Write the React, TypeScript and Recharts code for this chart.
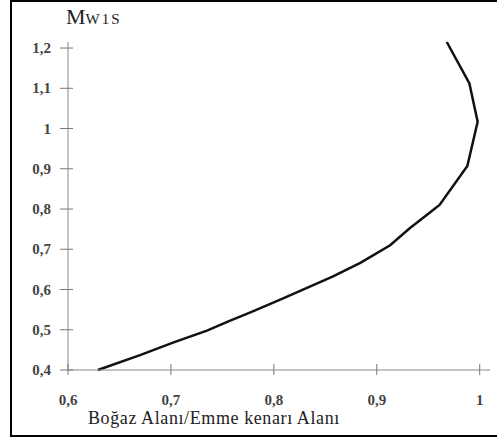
import React from 'react';
import { LineChart, Line, XAxis, YAxis } from 'recharts';

const areaRatio = [0.629, 0.670, 0.702, 0.735, 0.757, 0.779, 0.809, 0.857, 0.884, 0.913, 0.932, 0.951, 0.961, 0.988, 0.998, 0.990, 0.968];
const machW1S = [0.40, 0.437, 0.468, 0.498, 0.522, 0.545, 0.578, 0.632, 0.666, 0.710, 0.752, 0.790, 0.81, 0.907, 1.017, 1.112, 1.215];
const xTicks = [0.6, 0.7, 0.8, 0.9, 1];
const yTicks = [0.4, 0.5, 0.6, 0.7, 0.8, 0.9, 1, 1.1, 1.2];

const data = areaRatio.map((x, i) => ({ x, m: machW1S[i] }));

const fmt = (v: number) => String(v).replace('.', ',');
const FONT = '"Liberation Serif", "DejaVu Serif", serif';

const YTick = ({ x, y, payload }: any) => (
  <g>
    <line x1={x - 8} x2={x + 5} y1={y} y2={y} stroke="#777" strokeWidth={1} />
    <text x={x - 17} y={y + 5} textAnchor="end" fontFamily={FONT} fontSize={15} fontWeight="bold" fill="#444">
      {fmt(payload.value)}
    </text>
  </g>
);

const XTick = ({ x, y, payload }: any) => (
  <g>
    <line x1={x} x2={x} y1={y - 6} y2={y + 5} stroke="#777" strokeWidth={1} />
    <text x={x} y={y + 35} textAnchor="middle" fontFamily={FONT} fontSize={15} fontWeight="bold" fill="#444">
      {fmt(payload.value)}
    </text>
  </g>
);

const App = () => {
  return (
    <div style={{ position: 'absolute', left: 0, top: 0, width: 497, height: 440, background: '#fff' }}>
      <svg width={497} height={440} style={{ position: 'absolute', left: 0, top: 0 }}>
        <rect x={11} y={1} width={500} height={435} fill="none" stroke="#000" strokeWidth={2} />
      </svg>
      <div style={{ position: 'absolute', left: 0, top: 0 }}>
        <LineChart width={497} height={440} data={data} margin={{ top: 42, right: 7, bottom: 40, left: 8 }}>
          <XAxis
            dataKey="x"
            type="number"
            domain={[0.6, 1.01]}
            ticks={xTicks}
            height={30}
            tickSize={0}
            tickMargin={0}
            tickLine={false}
            stroke="#888"
            tick={<XTick />}
            interval={0}
          />
          <YAxis
            type="number"
            domain={[0.4, 1.2]}
            ticks={yTicks}
            width={60}
            tickSize={0}
            tickMargin={0}
            tickLine={false}
            stroke="#888"
            tick={<YTick />}
            interval={0}
          />
          <Line
            type="linear"
            dataKey="m"
            stroke="#111"
            strokeWidth={2.5}
            dot={false}
            isAnimationActive={false}
          />
          <text x={66} y={24} fontFamily={FONT} fill="#222">
            <tspan fontSize={22}>M</tspan>
            <tspan fontSize={15} letterSpacing={2}>W1S</tspan>
          </text>
          <text x={88} y={424} fontFamily={FONT} fontSize={18} letterSpacing={0.6} fill="#222">
            Boğaz Alanı/Emme kenarı Alanı
          </text>
        </LineChart>
      </div>
    </div>
  );
};

export default App;
